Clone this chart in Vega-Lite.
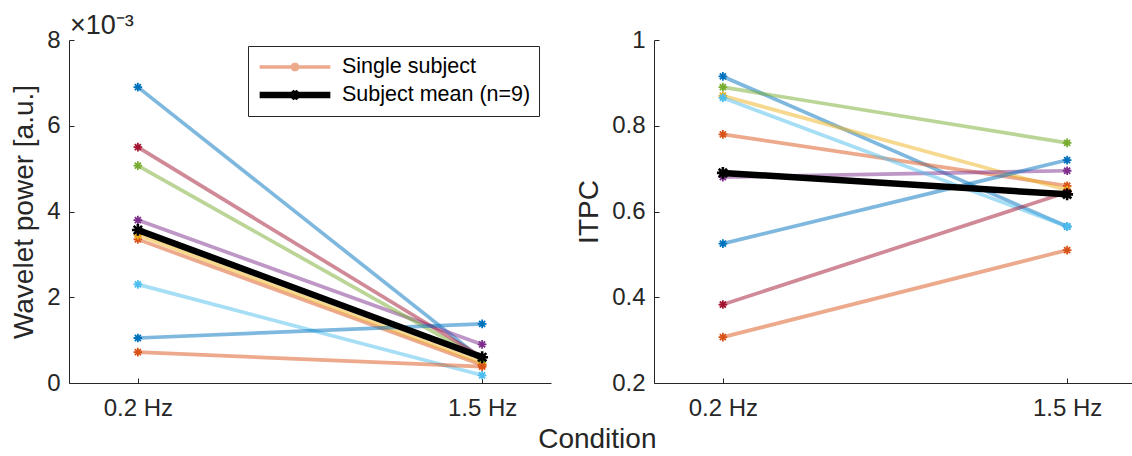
{
  "$schema": "https://vega.github.io/schema/vega-lite/v6.json",
  "background": "white",
  "padding": {"left": 10, "top": 12, "right": 0, "bottom": 0},
  "bounds": "flush",
  "spacing": 103,
  "config": {
    "font": "Liberation Sans",
    "view": {"stroke": null},
    "axis": {
      "grid": false,
      "domainColor": "#262626",
      "tickColor": "#262626",
      "labelColor": "#262626",
      "titleColor": "#262626",
      "labelFont": "Liberation Sans",
      "titleFont": "Liberation Sans",
      "labelFontSize": 24,
      "titleFontSize": 28,
      "titleFontWeight": "normal",
      "tickSize": -5,
      "domainWidth": 1,
      "tickWidth": 1
    }
  },
  "title": {"text": "Condition", "orient": "bottom", "anchor": "middle", "fontSize": 28, "fontWeight": "normal", "font": "Liberation Sans", "color": "#262626", "offset": 6, "dx": 24},
  "resolve": {
    "scale": {"color": "independent", "strokeWidth": "independent", "y": "independent", "x": "independent"},
    "legend": {"strokeWidth": "independent", "color": "independent"}
  },
  "datasets": {
    "power": [
      {"subject": "S1", "cond": "0.2 Hz", "value": 0.0069, "series": "Single subject"},
      {"subject": "S1", "cond": "1.5 Hz", "value": 0.00055, "series": "Single subject"},
      {"subject": "S2", "cond": "0.2 Hz", "value": 0.00335, "series": "Single subject"},
      {"subject": "S2", "cond": "1.5 Hz", "value": 0.00042, "series": "Single subject"},
      {"subject": "S3", "cond": "0.2 Hz", "value": 0.00345, "series": "Single subject"},
      {"subject": "S3", "cond": "1.5 Hz", "value": 0.00047, "series": "Single subject"},
      {"subject": "S4", "cond": "0.2 Hz", "value": 0.0038, "series": "Single subject"},
      {"subject": "S4", "cond": "1.5 Hz", "value": 0.0009, "series": "Single subject"},
      {"subject": "S5", "cond": "0.2 Hz", "value": 0.00507, "series": "Single subject"},
      {"subject": "S5", "cond": "1.5 Hz", "value": 0.00055, "series": "Single subject"},
      {"subject": "S6", "cond": "0.2 Hz", "value": 0.0023, "series": "Single subject"},
      {"subject": "S6", "cond": "1.5 Hz", "value": 0.00018, "series": "Single subject"},
      {"subject": "S7", "cond": "0.2 Hz", "value": 0.0055, "series": "Single subject"},
      {"subject": "S7", "cond": "1.5 Hz", "value": 0.0006, "series": "Single subject"},
      {"subject": "S8", "cond": "0.2 Hz", "value": 0.00105, "series": "Single subject"},
      {"subject": "S8", "cond": "1.5 Hz", "value": 0.00138, "series": "Single subject"},
      {"subject": "S9", "cond": "0.2 Hz", "value": 0.00072, "series": "Single subject"},
      {"subject": "S9", "cond": "1.5 Hz", "value": 0.00038, "series": "Single subject"},
      {"subject": "mean", "cond": "0.2 Hz", "value": 0.00357, "series": "Subject mean (n=9)"},
      {"subject": "mean", "cond": "1.5 Hz", "value": 0.0006, "series": "Subject mean (n=9)"}
    ],
    "itpc": [
      {"subject": "S1", "cond": "0.2 Hz", "value": 0.915, "series": "Single subject"},
      {"subject": "S1", "cond": "1.5 Hz", "value": 0.565, "series": "Single subject"},
      {"subject": "S2", "cond": "0.2 Hz", "value": 0.78, "series": "Single subject"},
      {"subject": "S2", "cond": "1.5 Hz", "value": 0.66, "series": "Single subject"},
      {"subject": "S3", "cond": "0.2 Hz", "value": 0.87, "series": "Single subject"},
      {"subject": "S3", "cond": "1.5 Hz", "value": 0.65, "series": "Single subject"},
      {"subject": "S4", "cond": "0.2 Hz", "value": 0.68, "series": "Single subject"},
      {"subject": "S4", "cond": "1.5 Hz", "value": 0.695, "series": "Single subject"},
      {"subject": "S5", "cond": "0.2 Hz", "value": 0.89, "series": "Single subject"},
      {"subject": "S5", "cond": "1.5 Hz", "value": 0.76, "series": "Single subject"},
      {"subject": "S6", "cond": "0.2 Hz", "value": 0.865, "series": "Single subject"},
      {"subject": "S6", "cond": "1.5 Hz", "value": 0.565, "series": "Single subject"},
      {"subject": "S7", "cond": "0.2 Hz", "value": 0.383, "series": "Single subject"},
      {"subject": "S7", "cond": "1.5 Hz", "value": 0.645, "series": "Single subject"},
      {"subject": "S8", "cond": "0.2 Hz", "value": 0.525, "series": "Single subject"},
      {"subject": "S8", "cond": "1.5 Hz", "value": 0.72, "series": "Single subject"},
      {"subject": "S9", "cond": "0.2 Hz", "value": 0.307, "series": "Single subject"},
      {"subject": "S9", "cond": "1.5 Hz", "value": 0.51, "series": "Single subject"},
      {"subject": "mean", "cond": "0.2 Hz", "value": 0.69, "series": "Subject mean (n=9)"},
      {"subject": "mean", "cond": "1.5 Hz", "value": 0.64, "series": "Subject mean (n=9)"}
    ]
  },
  "hconcat": [
    {
      "width": 482,
      "height": 343,
      "title": {"text": "×10⁻³", "anchor": "start", "frame": "group", "fontSize": 27, "fontWeight": "normal", "color": "#262626", "font": "Liberation Sans", "offset": -12, "dx": 1},
      "data": {"name": "power"},
      "encoding": {
        "x": {"field": "cond", "type": "ordinal", "scale": {"type": "point", "padding": 0.2}, "axis": {"title": null, "labelAngle": 0, "labelPadding": 18}},
        "y": {"field": "value", "type": "quantitative", "scale": {"domain": [0, 0.008], "nice": false, "zero": false},
              "axis": {"title": "Wavelet power [a.u.]", "values": [0, 0.002, 0.004, 0.006, 0.008], "labelExpr": "format(datum.value * 1000, '.0f')", "labelPadding": 14, "titlePadding": 8}}
      },
      "layer": [
        {
          "transform": [{"filter": "datum.subject !== 'mean'"}],
          "mark": {"type": "line", "opacity": 0.5},
          "encoding": {
            "color": {"field": "subject", "type": "nominal", "scale": {"domain": ["S1","S2","S3","S4","S5","S6","S7","S8","S9"], "range": ["#0072BD","#D95319","#EDB120","#7E2F8E","#77AC30","#4DBEEE","#A2142F","#0072BD","#D95319"]}, "legend": null},
            "strokeWidth": {"field": "series", "type": "ordinal", "scale": {"domain": ["Single subject", "Subject mean (n=9)"], "range": [3.7, 6.5]},
              "legend": {
                "title": null, "orient": "none", "legendX": 179, "legendY": 6,
                "symbolType": "M-1,0L1,0M0,-0.12L0,0.12M-0.1,-0.07L0.1,0.07M-0.1,0.07L0.1,-0.07",
                "symbolSize": 5000, "clipHeight": 26,
                "labelFontSize": 21.5, "labelColor": "#000000", "labelFont": "Liberation Sans", "labelOffset": 8, "labelLimit": 400,
                "padding": 8, "rowPadding": 2,
                "strokeColor": "#262626", "fillColor": "white",
                "symbolOpacity": 1,
                "encode": {"symbols": {"update": {
                  "stroke": [{"test": "datum.value === 'Single subject'", "value": "#ECA98C"}, {"value": "#000000"}],
                  "fill": {"value": "transparent"},
                  "opacity": {"value": 1}
                }}}
              }
            }
          }
        },
        {
          "transform": [{"filter": "datum.subject !== 'mean'"}],
          "mark": {"type": "point", "shape": "M-1,0L1,0M0,-1L0,1M-0.7,-0.7L0.7,0.7M-0.7,0.7L0.7,-0.7", "filled": false, "size": 75, "strokeWidth": 1.8, "opacity": 1},
          "encoding": {
            "color": {"field": "subject", "type": "nominal", "scale": {"domain": ["S1","S2","S3","S4","S5","S6","S7","S8","S9"], "range": ["#0072BD","#D95319","#EDB120","#7E2F8E","#77AC30","#4DBEEE","#A2142F","#0072BD","#D95319"]}, "legend": null}
          }
        },
        {
          "transform": [{"filter": "datum.subject === 'mean'"}],
          "mark": {"type": "line", "color": "#000000", "opacity": 1},
          "encoding": {
            "strokeWidth": {"field": "series", "type": "ordinal", "scale": {"domain": ["Single subject", "Subject mean (n=9)"], "range": [3.7, 6.5]}, "legend": null}
          }
        },
        {
          "transform": [{"filter": "datum.subject === 'mean'"}],
          "mark": {"type": "point", "shape": "M-1,0L1,0M0,-1L0,1M-0.7,-0.7L0.7,0.7M-0.7,0.7L0.7,-0.7", "filled": false, "size": 140, "strokeWidth": 2.6, "color": "#000000", "opacity": 1},
          "encoding": {}
        }
      ]
    },
    {
      "width": 482,
      "height": 343,
      "data": {"name": "itpc"},
      "encoding": {
        "x": {"field": "cond", "type": "ordinal", "scale": {"type": "point", "padding": 0.2}, "axis": {"title": null, "labelAngle": 0, "labelPadding": 18}},
        "y": {"field": "value", "type": "quantitative", "scale": {"domain": [0.2, 1], "nice": false, "zero": false},
              "axis": {"title": "ITPC", "values": [0.2, 0.4, 0.6, 0.8, 1], "labelExpr": "format(datum.value, '.1~f')", "labelPadding": 14, "titlePadding": 8}}
      },
      "layer": [
        {
          "transform": [{"filter": "datum.subject !== 'mean'"}],
          "mark": {"type": "line", "opacity": 0.5},
          "encoding": {
            "color": {"field": "subject", "type": "nominal", "scale": {"domain": ["S1","S2","S3","S4","S5","S6","S7","S8","S9"], "range": ["#0072BD","#D95319","#EDB120","#7E2F8E","#77AC30","#4DBEEE","#A2142F","#0072BD","#D95319"]}, "legend": null},
            "strokeWidth": {"field": "series", "type": "ordinal", "scale": {"domain": ["Single subject", "Subject mean (n=9)"], "range": [3.7, 6.5]}, "legend": null}
          }
        },
        {
          "transform": [{"filter": "datum.subject !== 'mean'"}],
          "mark": {"type": "point", "shape": "M-1,0L1,0M0,-1L0,1M-0.7,-0.7L0.7,0.7M-0.7,0.7L0.7,-0.7", "filled": false, "size": 75, "strokeWidth": 1.8, "opacity": 1},
          "encoding": {
            "color": {"field": "subject", "type": "nominal", "scale": {"domain": ["S1","S2","S3","S4","S5","S6","S7","S8","S9"], "range": ["#0072BD","#D95319","#EDB120","#7E2F8E","#77AC30","#4DBEEE","#A2142F","#0072BD","#D95319"]}, "legend": null}
          }
        },
        {
          "transform": [{"filter": "datum.subject === 'mean'"}],
          "mark": {"type": "line", "color": "#000000", "opacity": 1},
          "encoding": {
            "strokeWidth": {"field": "series", "type": "ordinal", "scale": {"domain": ["Single subject", "Subject mean (n=9)"], "range": [3.7, 6.5]}, "legend": null}
          }
        },
        {
          "transform": [{"filter": "datum.subject === 'mean'"}],
          "mark": {"type": "point", "shape": "M-1,0L1,0M0,-1L0,1M-0.7,-0.7L0.7,0.7M-0.7,0.7L0.7,-0.7", "filled": false, "size": 140, "strokeWidth": 2.6, "color": "#000000", "opacity": 1},
          "encoding": {}
        }
      ]
    }
  ]
}
